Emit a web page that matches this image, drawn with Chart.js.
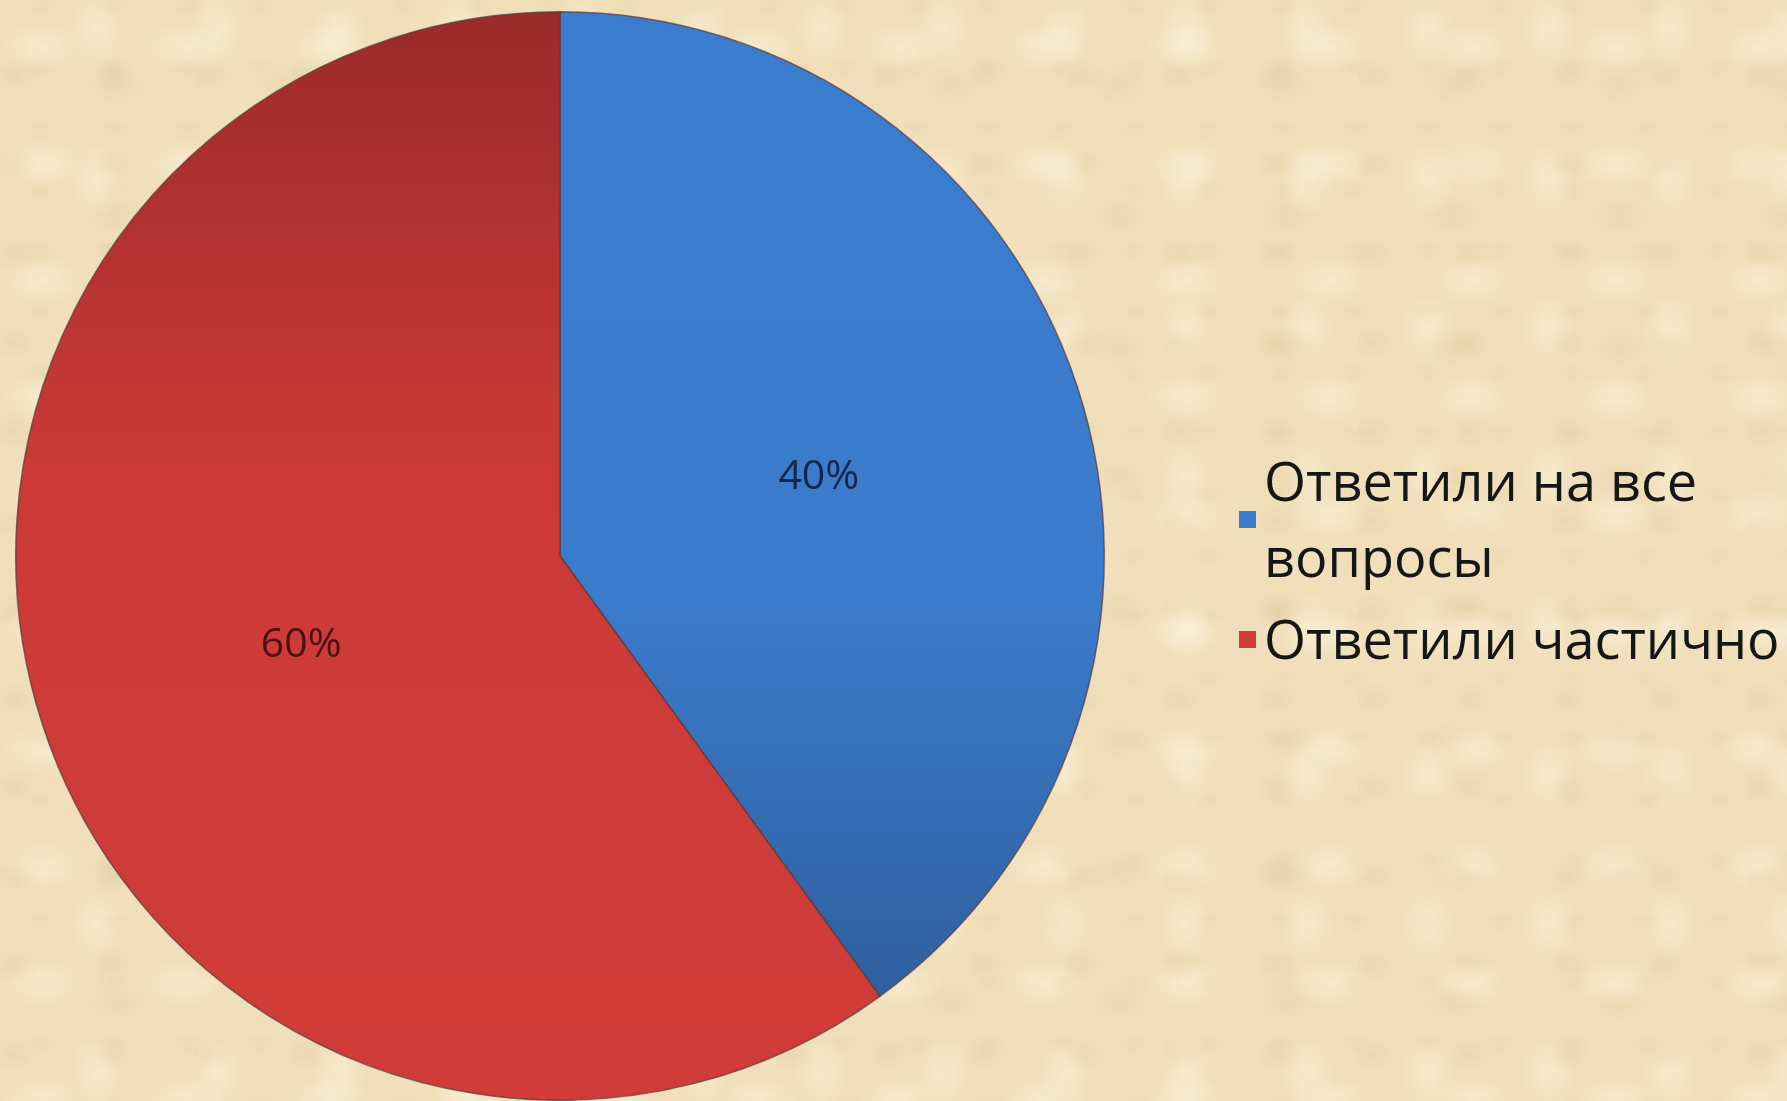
<!DOCTYPE html>
<html>
<head>
<meta charset="utf-8">
<script src="https://cdn.jsdelivr.net/npm/chart.js@4.4.1/dist/chart.umd.min.js"></script>
<style>
  html, body { margin: 0; padding: 0; overflow: hidden; }
  body {
    width: 1787px; height: 1101px;
    background-color: #f0dfba;
    background-image:
      radial-gradient(ellipse 60px 35px at 30% 40%, rgba(255,248,230,0.45), rgba(255,248,230,0) 70%),
      radial-gradient(ellipse 45px 30px at 70% 65%, rgba(214,188,140,0.2), rgba(214,188,140,0) 70%),
      radial-gradient(ellipse 40px 55px at 80% 20%, rgba(255,249,232,0.4), rgba(255,249,232,0) 70%),
      radial-gradient(ellipse 35px 25px at 15% 85%, rgba(212,184,134,0.18), rgba(212,184,134,0) 70%),
      radial-gradient(ellipse 25px 18px at 55% 10%, rgba(220,196,150,0.18), rgba(220,196,150,0) 70%);
    background-size: 143px 117px, 167px 131px, 121px 149px, 97px 89px, 73px 61px;
  }
  #wrap { position: absolute; left: 0; top: 0; width: 1787px; height: 1101px; }
</style>
</head>
<body>
<div id="wrap"><canvas id="pieChart" width="1787" height="1101"></canvas></div>
<script>
const labels = ['Ответили на все вопросы', 'Ответили частично'];
const values = [40, 60];
const percentLabels = ['40%', '60%'];

const sliceColors = ['#3b7bcb', '#d03b38'];
const labelColors = ['#13264d', '#4a1212'];

const pieChart = document.getElementById('pieChart');

// vertical gradient across the whole pie, like the office fill
function sliceFill(context) {
  const chart = context.chart;
  const area = chart.chartArea;
  if (!area) return sliceColors[context.dataIndex];
  const g = chart.ctx.createLinearGradient(0, area.top, 0, area.bottom);
  if (context.dataIndex == 0) {
    g.addColorStop(0, '#3a7dcf');
    g.addColorStop(0.55, '#3b7bcb');
    g.addColorStop(0.9, '#2f60a0');
    g.addColorStop(1, '#2d5b98');
  } else {
    g.addColorStop(0, '#9b2a2b');
    g.addColorStop(0.42, '#cc3a37');
    g.addColorStop(1, '#d13c39');
  }
  return g;
}

const percentPlugin = {
  id: 'percentPlugin',
  afterDatasetsDraw(chart) {
    const ctx = chart.ctx;
    const meta = chart.getDatasetMeta(0);
    ctx.save();
    ctx.font = '41px "Open Sans"';
    ctx.textAlign = 'center';
    ctx.textBaseline = 'middle';
    meta.data.forEach((arc, i) => {
      const p = arc.tooltipPosition();
      ctx.fillStyle = labelColors[i];
      ctx.fillText(percentLabels[i], p.x, p.y + 5);
    });
    ctx.restore();
  }
};

// office-style legend on the right, wraps long names
const sideLegend = {
  id: 'sideLegend',
  afterDraw(chart) {
    const ctx = chart.ctx;
    const x = 1264;
    const maxW = 560;
    const lineH = 76;
    let baseline = 501;
    ctx.save();
    ctx.font = '54px "Open Sans"';
    ctx.textBaseline = 'alphabetic';
    ctx.textAlign = 'left';
    labels.forEach((text, i) => {
      const words = text.split(' ');
      const lines = [];
      let cur = '';
      words.forEach(w => {
        const test = cur ? cur + ' ' + w : w;
        if (ctx.measureText(test).width > maxW && cur) {
          lines.push(cur);
          cur = w;
        } else {
          cur = test;
        }
      });
      lines.push(cur);
      const capTop = baseline - 40;
      const lastBase = baseline + (lines.length - 1) * lineH;
      const mid = (capTop + lastBase) / 2;
      ctx.fillStyle = sliceColors[i];
      ctx.fillRect(1239, mid - 8, 17, 17);
      ctx.fillStyle = '#161616';
      lines.forEach((ln, k) => {
        ctx.fillText(ln, x, baseline + k * lineH);
      });
      baseline = lastBase + 82;
    });
    ctx.restore();
  }
};

const pie = new Chart(pieChart, {
  type: 'pie',
  data: {
    labels: labels,
    datasets: [{
      data: values,
      backgroundColor: sliceFill,
      borderColor: 'rgba(90,60,60,0.75)',
      borderWidth: 1.5
    }]
  },
  options: {
    responsive: false,
    animation: false,
    layout: { padding: { left: 15, right: 682, top: 11, bottom: 0 } },
    plugins: {
      legend: { display: false },
      tooltip: { enabled: false }
    }
  },
  plugins: [percentPlugin, sideLegend]
});
</script>
</body>
</html>
